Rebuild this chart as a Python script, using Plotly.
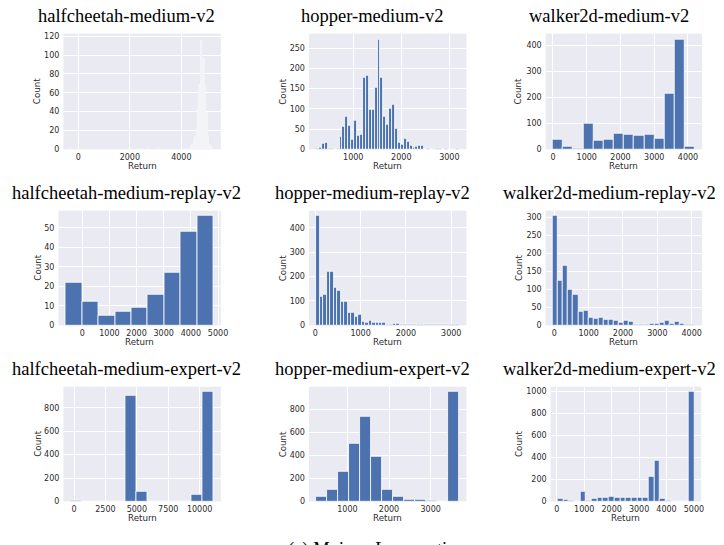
import plotly.graph_objects as go

W, H = 724, 545

# ---------------- data (histogram bins: start, width, counts) ----------------
titles = [
    "halfcheetah-medium-v2", "hopper-medium-v2", "walker2d-medium-v2",
    "halfcheetah-medium-replay-v2", "hopper-medium-replay-v2", "walker2d-medium-replay-v2",
    "halfcheetah-medium-expert-v2", "hopper-medium-expert-v2", "walker2d-medium-expert-v2",
]

hc_m_start, hc_m_width = -302, 55.6
hc_m_counts = [
    1, 0, 0, 0, 0, 2, 0, 0, 0, 0,
    0, 0, 0, 0, 0, 0, 0, 0, 0, 0,
    0, 0, 0, 0, 0, 0, 0, 0, 0, 1,
    0, 0, 0, 0, 0, 0, 0, 0, 0, 0,
    0, 1, 1, 0, 0, 0, 0, 1, 0, 0,
    2, 0, 0, 0, 1, 0, 0, 0, 0, 0,
    0, 1, 0, 0, 0, 0, 0, 0, 0, 0,
    0, 0, 0, 0, 0, 0, 0, 0, 0, 0,
    1, 0, 2, 2, 4, 6, 10, 15, 24, 45,
    70, 117, 98, 97, 68, 40, 15, 6, 4, 2,
]

hop_m_start, hop_m_width = 228, 60.8
hop_m_counts = [
    2, 4, 14, 17, 2, 2, 0, 3, 31, 57,
    81, 59, 23, 72, 34, 36, 178, 182, 98, 98,
    152, 272, 177, 81, 60, 100, 110, 50, 17, 12,
    27, 19, 8, 5, 7, 9, 9, 0, 1, 0,
    0, 1, 2, 0, 1, 0, 0, 0, 1,
]

wk_m_start, wk_m_width = -5, 301
wk_m_counts = [38, 12, 3, 98, 35, 38, 62, 58, 53, 58, 42, 215, 425, 12]

hc_mr_start, hc_mr_width = -604, 604
hc_mr_counts = [22, 12, 5, 7, 9, 16, 27, 48, 56]

hop_mr_start, hop_mr_width = 20, 77
hop_mr_counts = [
    448, 118, 128, 222, 222, 155, 144, 98, 97, 54,
    54, 34, 43, 17, 13, 21, 11, 10, 11, 11,
    2, 3, 8, 8, 1, 2, 1, 1, 2, 1,
    1, 3, 4, 1, 2, 3, 1, 1, 2, 1,
    2,
]

wk_mr_start, wk_mr_width = -45, 148
wk_mr_counts = [
    303, 124, 165, 99, 85, 37, 40, 21, 18, 22,
    16, 16, 13, 7, 12, 9, 1, 2, 3, 6,
    6, 8, 12, 6, 9, 6, 1, 1,
]

hc_me_start, hc_me_width = -280, 877
hc_me_counts = [2, 0, 0, 1, 0, 906, 84, 0, 0, 0, 0, 56, 934]

hop_me_start, hop_me_width = 248, 264.7
hop_me_counts = [40, 103, 255, 498, 735, 390, 100, 45, 13, 18, 10, 0, 946]

wk_me_start, wk_me_width = 22, 208
wk_me_counts = [
    25, 12, 3, 2, 90, 8, 25, 30, 33, 45,
    38, 37, 38, 38, 35, 35, 225, 365, 25, 3,
    2, 1, 2, 990,
]

xtick_vals = [
    [0, 2000, 4000], [1000, 2000, 3000], [0, 1000, 2000, 3000, 4000],
    [0, 1000, 2000, 3000, 4000, 5000], [0, 1000, 2000, 3000], [0, 1000, 2000, 3000, 4000],
    [0, 2500, 5000, 7500, 10000], [1000, 2000, 3000], [0, 1000, 2000, 3000, 4000, 5000],
]
ytick_steps = [20, 50, 100, 10, 100, 50, 200, 200, 200]

hist_data = [
    (hc_m_start, hc_m_width, hc_m_counts),
    (hop_m_start, hop_m_width, hop_m_counts),
    (wk_m_start, wk_m_width, wk_m_counts),
    (hc_mr_start, hc_mr_width, hc_mr_counts),
    (hop_mr_start, hop_mr_width, hop_mr_counts),
    (wk_mr_start, wk_mr_width, wk_mr_counts),
    (hc_me_start, hc_me_width, hc_me_counts),
    (hop_me_start, hop_me_width, hop_me_counts),
    (wk_me_start, wk_me_width, wk_me_counts),
]

caption = "(a) Mujoco Locomotion"

# ---------------- layout (pixel boxes of each plot area) ----------------
boxes = [  # x0, x1, ytop, ybottom
    (64, 223, 33, 150), (312, 471, 33, 150), (551, 709, 33, 150),
    (59, 223, 212, 328), (312, 471, 212, 328), (551, 709, 212, 328),
    (64, 223, 390, 506), (312, 471, 390, 506), (556, 708, 390, 506),
]
title_pos = [(128, 15), (376, 15), (615, 15),
             (128, 194), (376, 194), (615, 194),
             (128, 372), (376, 372), (615, 372)]
count_x = [38, 286, 524, 38, 286, 524, 38, 286, 524]
return_y = [167, 167, 167, 345, 345, 345, 523, 523, 523]

BLUE = "#4C72B0"
BG = "#EAEAF2"
TXT = "#2b2b2b"
SANS = "DejaVu Sans"
SERIF = "Liberation Serif"

fig = go.Figure()
annotations = []
layout = dict(
    width=W, height=H, margin=dict(l=0, r=0, t=0, b=0),
    paper_bgcolor="white", plot_bgcolor=BG, showlegend=False,
    bargap=0,
)

for i, (start, w, counts) in enumerate(hist_data):
    n = i + 1
    xs = [start + (k + 0.5) * w for k in range(len(counts))]
    lo, hi = start, start + len(counts) * w
    pad = 0.05 * (hi - lo)
    color = "#f3f4f8" if i == 0 else BLUE
    lw = 0 if i == 0 else 0.8
    fig.add_trace(go.Bar(
        x=xs, y=counts, width=w,
        xaxis=f"x{n}", yaxis=f"y{n}",
        marker=dict(color=color, line=dict(color="white", width=lw)),
        hoverinfo="skip",
    ))
    x0, x1, yt, yb = boxes[i]
    ax = "" if n == 1 else str(n)
    layout[f"xaxis{ax}"] = dict(
        domain=[x0 / W, x1 / W], anchor=f"y{n}",
        range=[lo - pad, hi + pad], tickvals=xtick_vals[i], tickformat="d",
        showgrid=True, gridcolor="white", gridwidth=1,
        zeroline=False, showline=False, ticks="",
        tickfont=dict(family=SANS, size=8, color=TXT),
        ticklabelstandoff=2,
    )
    layout[f"yaxis{ax}"] = dict(
        domain=[1 - yb / H, 1 - yt / H], anchor=f"x{n}",
        range=[0, 1.05 * max(counts)], dtick=ytick_steps[i], tick0=0,
        showgrid=True, gridcolor="white", gridwidth=1,
        zeroline=False, showline=False, ticks="",
        tickfont=dict(family=SANS, size=8, color=TXT),
        ticklabelstandoff=3,
    )
    cx, cy = title_pos[i]
    annotations.append(dict(
        text=titles[i], x=cx / W, y=1 - cy / H, xref="paper", yref="paper",
        xanchor="center", yanchor="middle", showarrow=False,
        font=dict(family=SERIF, size=18.5, color="black"),
    ))
    annotations.append(dict(
        text="Count", x=count_x[i] / W, y=1 - ((yt + yb) / 2) / H,
        xref="paper", yref="paper", xanchor="center", yanchor="middle",
        textangle=-90, showarrow=False,
        font=dict(family=SANS, size=8.7, color=TXT),
    ))
    annotations.append(dict(
        text="Return", x=((x0 + x1) / 2) / W, y=1 - return_y[i] / H,
        xref="paper", yref="paper", xanchor="center", yanchor="middle",
        showarrow=False, font=dict(family=SANS, size=8.7, color=TXT),
    ))

# caption of the original figure, mostly cut off by the bottom edge
annotations.append(dict(
    text=caption, x=381 / W, y=1 - 542 / H,
    xref="paper", yref="paper", xanchor="center", yanchor="top",
    showarrow=False, font=dict(family=SERIF, size=18.5, color="black"),
))
layout["annotations"] = annotations
fig.update_layout(**layout)

fig.write_html("out.html")
